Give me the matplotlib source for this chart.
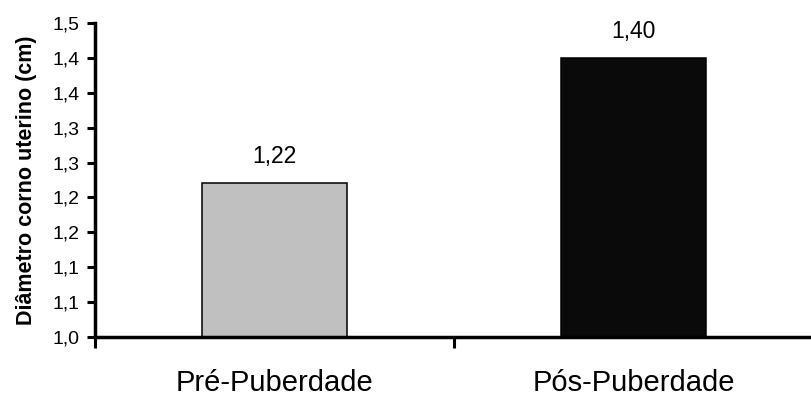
import matplotlib
matplotlib.use("Agg")
import matplotlib.pyplot as plt

categories = ["Pré-Puberdade", "Pós-Puberdade"]
values = [1.221, 1.40]
value_labels = ["1,22", "1,40"]
bar_colors = ["#c0c0c0", "#0a0a0a"]
yticks = [1.0, 1.05, 1.10, 1.15, 1.20, 1.25, 1.30, 1.35, 1.40, 1.45]
ytick_labels = ["1,0", "1,1", "1,1", "1,2", "1,2", "1,3", "1,3", "1,4", "1,4", "1,5"]

plt.rcParams['font.family'] = ['Liberation Sans', 'DejaVu Sans']

fig = plt.figure(figsize=(8.11, 3.96), dpi=100)
ax = fig.add_axes([95/811, 1-337/396, 718/811, 314/396])

x = list(range(len(categories)))
ax.bar(x, [v - 1.0 for v in values], bottom=1.0, width=0.404, color=bar_colors,
       edgecolor="black", linewidth=1.1, zorder=2)
for xi, v, lab in zip(x, values, value_labels):
    ax.annotate(lab, (xi, v), xytext=(0, 19), textcoords="offset points",
                ha="center", va="center", fontsize=16.5)

ax.set_xlim(-0.5, 1.5)
ax.set_ylim(1.0, 1.45)
ax.set_yticks(yticks)
ax.set_yticklabels(ytick_labels, fontsize=14)
ax.set_xticks([-0.5, 0.5, 1.5])
ax.set_xticklabels([])
ax.set_xticks(x, minor=True)
ax.set_xticklabels(categories, minor=True, fontsize=21)
ax.tick_params(axis="x", which="minor", length=0, pad=23)
ax.tick_params(axis="x", which="major", length=8, width=2.2, direction="out")
ax.tick_params(axis="y", length=6, width=2.2, direction="out", pad=5)

ax.set_ylabel("Diâmetro corno uterino (cm)", fontsize=15.5, fontweight="bold", labelpad=11)

for s in ["top", "right"]:
    ax.spines[s].set_visible(False)
for s in ["left", "bottom"]:
    ax.spines[s].set_linewidth(2.5)
ax.spines["bottom"].set_zorder(3)

fig.savefig("out.png", dpi=100)
